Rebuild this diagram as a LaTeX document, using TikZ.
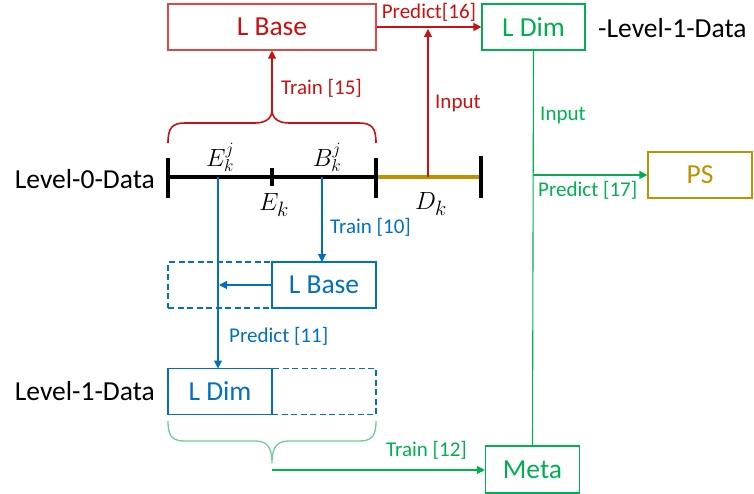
\documentclass[tikz,border=0pt]{standalone}
\usepackage{fontspec}
\setmainfont{Carlito}
\usetikzlibrary{arrows.meta}
\definecolor{cred}{RGB}{204,16,16}
\definecolor{credl}{RGB}{224,70,70}
\definecolor{cgreen}{RGB}{0,176,80}
\definecolor{cgreenl}{RGB}{110,205,150}
\definecolor{cblue}{RGB}{0,112,192}
\definecolor{cgold}{RGB}{191,144,0}
\begin{document}
\begin{tikzpicture}[x=1pt,y=-1pt,
  big/.style={font=\fontsize{27.5}{30}\selectfont},
  lab/.style={font=\fontsize{21}{24}\selectfont,inner sep=0pt},
  box/.style={draw,line width=1.1pt,minimum width=#1,minimum height=46pt,inner sep=0pt,big},
  box/.default=104pt,
  dbox/.style={draw,line width=1.1pt,dash pattern=on 6pt off 3.5pt,minimum width=104pt,minimum height=46pt,inner sep=0pt},
  arr/.style={line width=1.1pt,-{Triangle[length=8pt,width=8pt]}},
  tick/.style={line width=3.2pt}]
\useasboundingbox (0,0) rectangle (754,494);
% top row
\node[box=208pt,draw=credl,text=cred] (lb) at (272,27) {L Base};
\node[box=103pt,draw=cgreen,text=cgreen] (ld) at (533.5,27) {L Dim};
\node[big,anchor=west,inner sep=0pt] (l1t) at (598,28) {-Level-1-Data};
\draw[arr,cred] (lb.east) -- (ld.west) node[lab,midway,above=5pt] (p16) {Predict[16]};
% level 0 line
\coordinate (a0) at (168,177);
\coordinate (a1) at (272,177);
\coordinate (a2) at (376,177);
\coordinate (a3) at (481,177);
\draw[tick,black] (a0) -- (a2);
\draw[tick,cgold] (a2) -- (a3);
\draw[tick] (168,158) -- (168,198);
\draw[tick] (272,168) -- (272,186);
\draw[tick] (376,158) -- (376,198);
\draw[tick] (481,156) -- (481,198);
\node[big,anchor=east,inner sep=0pt] (l0) at (155,179) {Level-0-Data};
\node[font=\fontsize{24}{26}\selectfont,inner sep=0pt] (ekj) at (220,157) {$E_k^j$};
\node[font=\fontsize{24}{26}\selectfont,inner sep=0pt] (bkj) at (327,157) {$B_k^j$};
\node[font=\fontsize{28}{30}\selectfont,inner sep=0pt] (ek) at (274,205) {$E_k$};
\node[font=\fontsize{28}{30}\selectfont,inner sep=0pt] (dk) at (431,204) {$D_k$};
% red brace
\draw[cred,line width=1.6pt] (168,143) .. controls (168,128) and (172,123) .. (185,123) -- (255,123)
  .. controls (266,123) and (272,118) .. (272,110) .. controls (272,118) and (278,123) .. (289,123)
  -- (359,123) .. controls (372,123) and (376,128) .. (376,143);
\coordinate (bt) at (272,110);
\draw[arr,cred] (bt) -- (lb.south);
\node[lab,anchor=west,text=cred] (t15) at (281,88) {Train [15]};
% red input
\coordinate (din) at (428,177);
\coordinate (pin) at (428,29);
\draw[arr,cred] (din) -- (pin);
\node[lab,anchor=west,text=cred] (inr) at (435,103) {Input};
% blue part
\node[box,draw=cblue,text=cblue] (lb2) at (324,285) {L Base};
\node[dbox,draw=cblue] (dl) at (220,285) {};
\node[box,draw=cblue,text=cblue] (ld2) at (220,391.5) {L Dim};
\node[dbox,draw=cblue] (dr) at (324,391.5) {};
\coordinate (ej) at (218,177);
\coordinate (bj) at (322,177);
\draw[arr,cblue] (ej) -- (218,368.5);
\draw[arr,cblue] (bj) -- (322,262);
\draw[arr,cblue] (lb2.west) -- (219,285);
\node[lab,anchor=west,text=cblue] (t10) at (330,227) {Train [10]};
\node[lab,anchor=west,text=cblue] (p11) at (229,336) {Predict [11]};
\node[big,anchor=east,inner sep=0pt] (l1) at (155,391) {Level-1-Data};
% green brace
\draw[cgreenl,line width=1.3pt] (168,421) .. controls (168,436) and (172,441) .. (185,441) -- (255,441)
  .. controls (266,441) and (272,446) .. (272,463) .. controls (272,446) and (278,441) .. (289,441)
  -- (359,441) .. controls (372,441) and (376,436) .. (376,421);
\node[box=94pt,minimum height=47pt,draw=cgreen,text=cgreen] (meta) at (532.5,469.5) {Meta};
\coordinate (gb) at (272,470);
\draw[arr,cgreen] (gb) -- (meta.west |- gb);
\node[lab,anchor=west,text=cgreen] (t12) at (386,450) {Train [12]};
% green vertical
\draw[cgreen,line width=1.1pt] (ld.south) -- (meta.north);
\node[lab,anchor=west,text=cgreen] (ing) at (540,115) {Input};
\node[box,draw=cgold,text=cgold] (ps) at (700,175) {PS};
\coordinate (gp) at (533,175);
\draw[arr,cgreen] (gp) -- (ps.west);
\node[lab,anchor=west,text=cgreen] (p17) at (538,190) {Predict [17]};
\end{tikzpicture}
\end{document}
